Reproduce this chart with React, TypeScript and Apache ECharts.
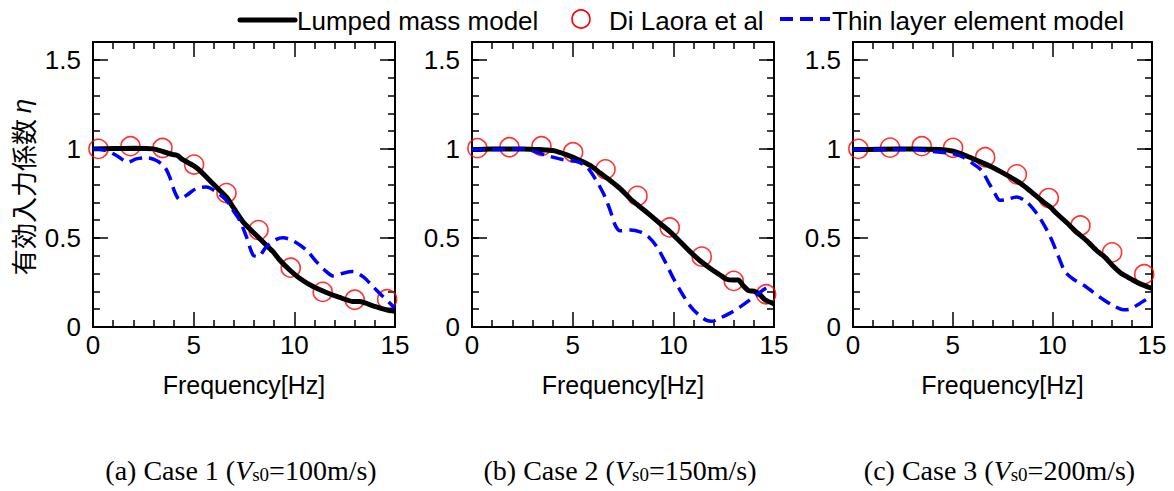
import React, { useEffect, useRef } from "react";
import * as echarts from "echarts";

// Di Laora et al (red circles)
const FREQ_DL = [0.27, 1.86, 3.45, 5.02, 6.63, 8.22, 9.82, 11.41, 13.0, 14.61];
const DL_CASE1 = [1.0, 1.015, 1.005, 0.912, 0.752, 0.544, 0.333, 0.197, 0.153, 0.156];
const DL_CASE2 = [1.004, 1.009, 1.015, 0.981, 0.885, 0.736, 0.559, 0.395, 0.259, 0.184];
const DL_CASE3 = [1.0, 1.007, 1.015, 1.006, 0.953, 0.857, 0.724, 0.57, 0.419, 0.296];

// Lumped mass model (black)
const LM1_F = [0, 1, 2, 3, 3.6, 3.97, 4.2, 4.4, 4.97, 5.3, 5.96, 6.62, 6.95, 7.45, 8.1, 8.6, 8.94, 9.27, 9.77, 10.26, 10.93, 11.59, 12.25, 12.91, 13.25, 13.9, 14.57, 15];
const LM1_V = [1.0, 1.002, 1.003, 1.0, 0.98, 0.968, 0.963, 0.944, 0.907, 0.879, 0.804, 0.73, 0.674, 0.59, 0.516, 0.46, 0.423, 0.376, 0.32, 0.274, 0.227, 0.194, 0.166, 0.143, 0.143, 0.119, 0.097, 0.088];
const LM2_F = [0, 0.91, 2.56, 3.39, 4.05, 4.71, 5.37, 5.87, 6.37, 6.86, 7.36, 7.86, 8.35, 8.85, 9.34, 9.84, 10.34, 10.83, 11.33, 11.82, 12.32, 12.65, 12.98, 13.23, 13.48, 13.73, 14.06, 14.3, 14.55, 15];
const LM2_V = [0.996, 1.0, 1.0, 0.996, 0.99, 0.966, 0.935, 0.907, 0.864, 0.823, 0.777, 0.72, 0.674, 0.628, 0.581, 0.534, 0.479, 0.423, 0.372, 0.33, 0.292, 0.268, 0.264, 0.264, 0.231, 0.205, 0.199, 0.181, 0.153, 0.13];
const LM3_F = [0, 1.34, 3.02, 4.36, 5.03, 5.53, 6.03, 6.54, 7.04, 7.54, 8.04, 8.55, 9.05, 9.55, 9.89, 10.22, 10.73, 11.23, 11.73, 12.23, 12.65, 13.07, 13.41, 13.74, 14.08, 14.41, 14.75, 15];
const LM3_V = [0.996, 0.998, 1.0, 0.996, 0.987, 0.968, 0.944, 0.92, 0.894, 0.864, 0.832, 0.795, 0.749, 0.702, 0.674, 0.637, 0.585, 0.531, 0.484, 0.428, 0.391, 0.339, 0.305, 0.283, 0.261, 0.242, 0.227, 0.216];

// Thin layer element model (blue dashed)
const TL1_F = [0, 0.66, 1.16, 1.74, 2.15, 2.65, 3.15, 3.56, 3.81, 4.06, 4.3, 4.64, 5.13, 5.63, 6.13, 6.62, 6.95, 7.28, 7.62, 7.95, 8.2, 8.61, 9.11, 9.44, 9.93, 10.6, 11.09, 11.59, 11.92, 12.42, 12.91, 13.41, 13.91, 14.4, 15];
const TL1_V = [1.0, 0.99, 0.963, 0.925, 0.944, 0.95, 0.935, 0.898, 0.842, 0.758, 0.717, 0.739, 0.777, 0.786, 0.758, 0.711, 0.655, 0.6, 0.507, 0.404, 0.395, 0.451, 0.492, 0.501, 0.484, 0.432, 0.367, 0.311, 0.287, 0.302, 0.311, 0.283, 0.227, 0.171, 0.106];
const TL2_F = [0, 0.91, 2.56, 3.22, 3.89, 4.55, 5.21, 5.71, 6.12, 6.53, 6.86, 7.11, 7.36, 7.86, 8.35, 8.76, 9.18, 9.59, 10.0, 10.42, 10.83, 11.25, 11.66, 11.91, 12.32, 12.82, 13.31, 13.81, 14.3, 14.72, 14.9];
const TL2_V = [0.996, 0.996, 1.0, 0.981, 0.957, 0.939, 0.929, 0.898, 0.832, 0.749, 0.656, 0.572, 0.54, 0.544, 0.534, 0.507, 0.451, 0.367, 0.274, 0.19, 0.119, 0.069, 0.037, 0.032, 0.05, 0.078, 0.112, 0.153, 0.194, 0.227, 0.234];
const TL3_F = [0, 1.34, 3.02, 4.02, 5.03, 5.53, 6.03, 6.45, 6.79, 7.12, 7.37, 7.71, 8.21, 8.71, 9.22, 9.64, 9.97, 10.31, 10.64, 11.06, 11.56, 12.07, 12.57, 13.07, 13.57, 13.91, 14.41, 15];
const TL3_V = [0.996, 0.996, 0.996, 0.985, 0.972, 0.953, 0.916, 0.879, 0.814, 0.749, 0.711, 0.715, 0.73, 0.702, 0.637, 0.562, 0.488, 0.395, 0.311, 0.268, 0.236, 0.194, 0.153, 0.119, 0.097, 0.101, 0.134, 0.175];

const SERIES_NAMES = ["Lumped mass model", "Di Laora et al", "Thin layer element model"];
const CAPTION_PREFIX = ["(a) Case 1 (", "(b) Case 2 (", "(c) Case 3 ("];
const CAPTION_VS = ["100m/s)", "150m/s)", "200m/s)"];
const X_LABEL = "Frequency[Hz]";
const Y_LABEL = "有効入力係数";

const PANELS = [
  { lm: [LM1_F, LM1_V], dl: DL_CASE1, tl: [TL1_F, TL1_V] },
  { lm: [LM2_F, LM2_V], dl: DL_CASE2, tl: [TL2_F, TL2_V] },
  { lm: [LM3_F, LM3_V], dl: DL_CASE3, tl: [TL3_F, TL3_V] },
];

const GRID_POS = [
  { left: 93, width: 302 },
  { left: 472, width: 302 },
  { left: 853, width: 299 },
];

const SANS = "Liberation Sans, Arial, sans-serif";
const SERIF = "Liberation Serif, Times New Roman, serif";

function zip(xs: number[], ys: number[]) {
  return xs.map((x, i) => [x, ys[i]]);
}

export default function App() {
  const ref = useRef<HTMLDivElement>(null);
  useEffect(() => {
    document.body.style.margin = "0";
    if (!ref.current) return;
    const chart = echarts.init(ref.current, null, { renderer: "svg" });
    const tickStyle = { color: "#000", width: 1.5 };
    const lineStyle = { color: "#000", width: 2 };

    const grid: any[] = [];
    const xAxis: any[] = [];
    const yAxis: any[] = [];
    const series: any[] = [];
    const graphic: any[] = [];

    GRID_POS.forEach((g, i) => {
      grid.push({ left: g.left, width: g.width, top: 42, height: 285 });
      ["bottom", "top"].forEach((pos) => {
        xAxis.push({
          type: "value",
          gridIndex: i,
          position: pos,
          min: 0,
          max: 15,
          interval: 5,
          axisLine: { show: true, onZero: false, lineStyle },
          axisTick: { show: true, inside: true, length: 15, lineStyle: tickStyle },
          minorTick: { show: true, splitNumber: 5, length: 7, lineStyle: tickStyle },
          splitLine: { show: false },
          minorSplitLine: { show: false },
          axisLabel: {
            show: pos === "bottom",
            margin: 5,
            fontSize: 26,
            color: "#000",
            fontFamily: SANS,
          },
          name: pos === "bottom" ? X_LABEL : "",
          nameLocation: "middle",
          nameGap: 45,
          nameTextStyle: { fontSize: 25, color: "#000", fontFamily: SANS },
        });
      });
      ["left", "right"].forEach((pos) => {
        yAxis.push({
          type: "value",
          gridIndex: i,
          position: pos,
          min: 0,
          max: 1.6,
          interval: 0.5,
          axisLine: { show: true, onZero: false, lineStyle },
          axisTick: { show: true, inside: true, length: 15, lineStyle: tickStyle },
          splitLine: { show: false },
          axisLabel: {
            show: pos === "left",
            margin: 12,
            fontSize: 26,
            color: "#000",
            fontFamily: SANS,
            formatter: (v: number) => (v > 1.55 ? "" : String(v)),
          },
        });
        yAxis.push({
          type: "value",
          gridIndex: i,
          position: pos,
          min: 0,
          max: 1.6,
          interval: 0.1,
          axisLine: { show: true, onZero: false, lineStyle },
          axisTick: { show: true, inside: true, length: 7, lineStyle: tickStyle },
          splitLine: { show: false },
          axisLabel: { show: false },
        });
      });

      const p = PANELS[i];
      series.push({
        name: SERIES_NAMES[1],
        type: "scatter",
        xAxisIndex: 2 * i,
        yAxisIndex: 4 * i,
        data: zip(FREQ_DL, p.dl),
        symbol: "circle",
        symbolSize: 19,
        itemStyle: { color: "rgba(0,0,0,0)", borderColor: "#ff0000", borderWidth: 1.6 },
        z: 2,
      });
      series.push({
        name: SERIES_NAMES[0],
        type: "line",
        xAxisIndex: 2 * i,
        yAxisIndex: 4 * i,
        data: zip(p.lm[0], p.lm[1]),
        symbol: "none",
        smooth: 0.2,
        lineStyle: { color: "#000", width: 5 },
        z: 3,
      });
      series.push({
        name: SERIES_NAMES[2],
        type: "line",
        xAxisIndex: 2 * i,
        yAxisIndex: 4 * i,
        data: zip(p.tl[0], p.tl[1]),
        symbol: "none",
        smooth: 0.3,
        lineStyle: { color: "#0000ff", width: 3.5, type: [13, 7] },
        z: 4,
      });

      graphic.push({
        type: "text",
        x: g.left + g.width / 2 - 3,
        y: 470,
        style: {
          text: `${CAPTION_PREFIX[i]}{v|V}{s|s0}=${CAPTION_VS[i]}`,
          font: `28px ${SERIF}`,
          fill: "#000",
          align: "center",
          verticalAlign: "middle",
          rich: {
            v: { fontFamily: SERIF, fontSize: 28, fontStyle: "italic", fill: "#000" },
            s: {
              fontFamily: SERIF,
              fontSize: 19,
              lineHeight: 19,
              padding: [9, 0, 0, 0],
              verticalAlign: "bottom",
              fill: "#000",
            },
          },
        },
      });
    });

    // Y-axis title
    graphic.push({
      type: "text",
      x: 22,
      y: 187,
      rotation: Math.PI / 2,
      style: {
        text: `${Y_LABEL} {e|η}`,
        font: `26px Noto Sans CJK JP, ${SANS}`,
        fill: "#000",
        align: "center",
        verticalAlign: "middle",
        rich: {
          e: { fontFamily: SANS, fontSize: 26, fontStyle: "italic", fill: "#000" },
        },
      },
    });

    // Legend
    graphic.push(
      { type: "line", shape: { x1: 240, y1: 20, x2: 295, y2: 20 }, style: { stroke: "#000", lineWidth: 5, lineCap: "round" } },
      { type: "text", x: 297, y: 21, style: { text: SERIES_NAMES[0], font: `26px ${SANS}`, fill: "#000", verticalAlign: "middle" } },
      { type: "circle", shape: { cx: 581, cy: 19, r: 9 }, style: { fill: "none", stroke: "#ff0000", lineWidth: 1.6 } },
      { type: "text", x: 609, y: 21, style: { text: SERIES_NAMES[1], font: `26px ${SANS}`, fill: "#000", verticalAlign: "middle" } },
      { type: "line", shape: { x1: 780, y1: 19, x2: 830, y2: 19 }, style: { stroke: "#0000ff", lineWidth: 4, lineDash: [13, 7] } },
      { type: "text", x: 832, y: 21, style: { text: SERIES_NAMES[2], font: `26px ${SANS}`, fill: "#000", verticalAlign: "middle" } }
    );

    chart.setOption({
      animation: false,
      backgroundColor: "#fff",
      grid,
      xAxis,
      yAxis,
      series,
      graphic,
    });
    return () => chart.dispose();
  }, []);
  return <div ref={ref} style={{ width: 1174, height: 491 }} />;
}
